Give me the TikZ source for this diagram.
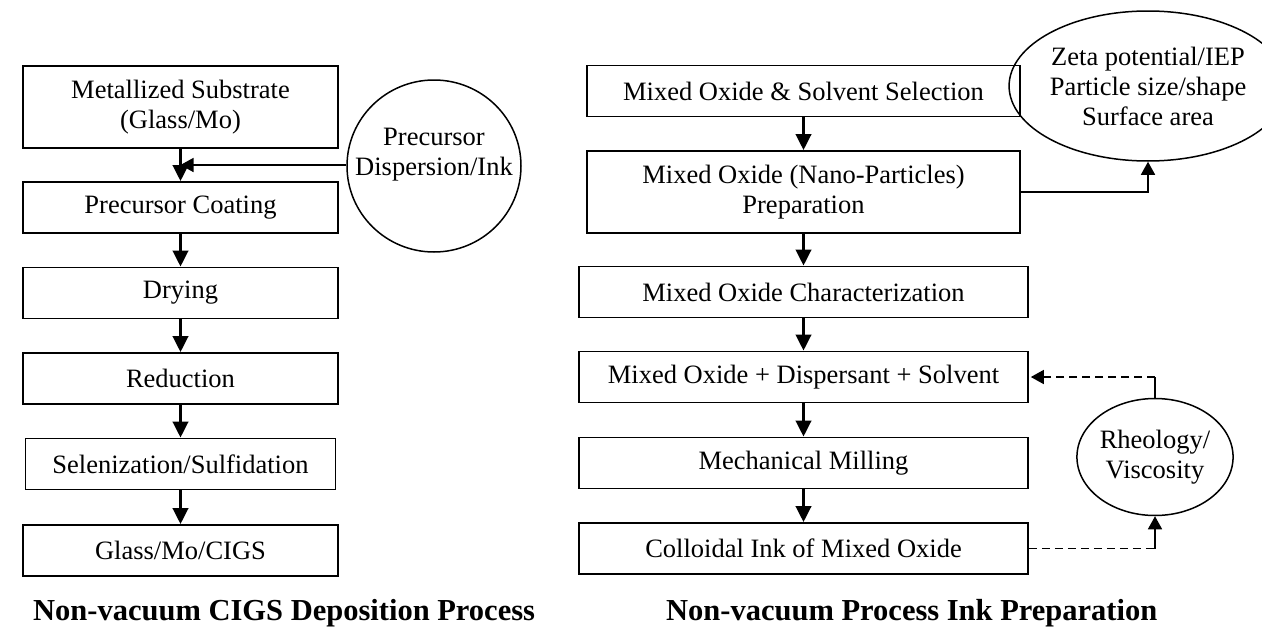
\documentclass[tikz,border=0pt]{standalone}
\usepackage{fontspec}
\setmainfont{Liberation Serif}
\usetikzlibrary{arrows.meta,shapes.geometric,positioning}
\tikzset{font={\fontsize{26.5pt}{30pt}\selectfont}}

\begin{document}
\begin{tikzpicture}[x=1pt,y=-1pt,
    stepbox/.style={draw, line width=1.6pt, inner sep=0pt, align=center, minimum height=51pt},
    roundbox/.style={draw, line width=1.5pt, ellipse, inner sep=0pt, align=center},
    flow/.style={line width=3.5pt, -{Triangle[width=15pt,length=16pt]}},
    feed/.style={line width=1.5pt, -{Triangle[width=14pt,length=13pt]}},
    plain/.style={line width=1.5pt},
    title/.style={font={\fontsize{30.5pt}{36pt}\selectfont\bfseries}, anchor=base west, inner sep=0pt}]
    \useasboundingbox (0,0) rectangle (1262,629);
                % left column
                \node (sub) [stepbox, minimum width=315pt, minimum height=82pt] at (180.5,107) {Metallized Substrate\\(Glass/Mo)};
                \node (coat) [stepbox, minimum width=315pt] at (180.5,207.5) {Precursor Coating};
                \node (dry) [stepbox, minimum width=315pt] at (180.5,293) {Drying};
                \node (red) [stepbox, minimum width=315pt] at (180.5,378.5) {Reduction};
                \node (sel) [stepbox, minimum width=310pt] at (180.5,464) {Selenization/Sulfidation};
                \node (cigs) [stepbox, minimum width=315pt] at (180.5,550.5) {Glass/Mo/CIGS};
                \node (ink) [roundbox, minimum width=174pt, minimum height=172pt,
                    label={[align=center, yshift=11pt]center:Precursor\\Dispersion/Ink}] at (434,166) {};
                \draw[flow] (sub) -- (coat);
                \draw[flow] (coat) -- (dry);
                \draw[flow] (dry) -- (red);
                \draw[flow] (red) -- (sel);
                \draw[flow] (sel) -- (cigs);
                \draw[feed] (ink.west |- 0,165) -- (sub.south |- 0,165);
                % right column
                \node (choice) [stepbox, minimum width=433pt] at (803.5,91) {Mixed Oxide \& Solvent Selection};
                \node (nano) [stepbox, minimum width=433pt, minimum height=82pt] at (803.5,192) {Mixed Oxide (Nano-Particles)\\Preparation};
                \node (char) [stepbox, minimum width=449pt] at (803.5,292) {Mixed Oxide Characterization};
                \node (mix) [stepbox, minimum width=449pt] at (803.5,377) {Mixed Oxide + Dispersant + Solvent};
                \node (mill) [stepbox, minimum width=449pt] at (803.5,463) {Mechanical Milling};
                \node (coll) [stepbox, minimum width=449pt] at (803.5,548.5) {Colloidal Ink of Mixed Oxide};
                \node (zeta) [roundbox, minimum width=228pt, minimum height=150pt] at (1148,86) {Zeta potential/IEP\\Particle size/shape\\Surface area};
                \node (rheo) [roundbox, minimum width=134pt, minimum height=117pt] at (1155,457) {Rheology/\\Viscosity};
                \draw[flow] (choice) -- (nano);
                \draw[flow] (nano) -- (char);
                \draw[flow] (char) -- (mix);
                \draw[flow] (mix) -- (mill);
                \draw[flow] (mill) -- (coll);
                \draw[feed] (nano.east) -| (zeta.south);
                \draw[plain, dashed, dash pattern=on 8pt off 5pt] (coll.east) -- (coll.east -| rheo.south);
                \draw[feed] (coll.east -| rheo.south) -- (rheo.south);
                \draw[plain] (rheo.north) -- (rheo.north |- mix.east);
                \draw[feed, dash pattern=on 8pt off 5pt, shorten >=2pt] (rheo.north |- mix.east) -- (mix.east);
                % captions
                \node (capl) [title] at (33,620) {Non-vacuum CIGS Deposition Process};
                \node (capr) [title] at (666,620) {Non-vacuum Process Ink Preparation};
\end{tikzpicture}
\end{document}
